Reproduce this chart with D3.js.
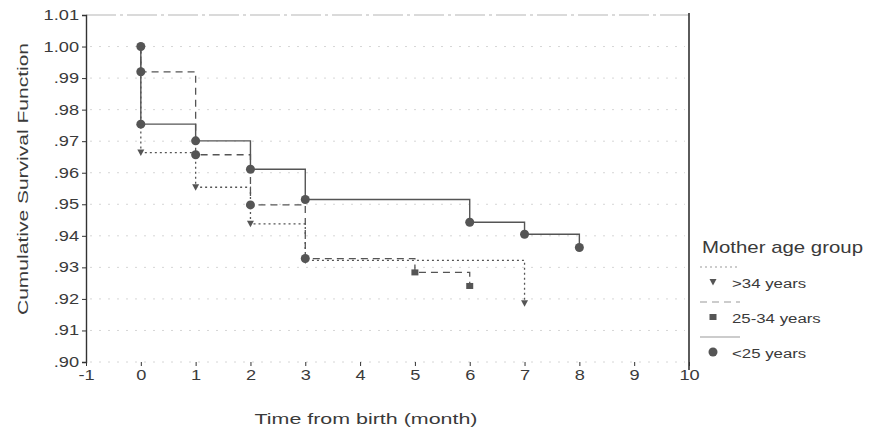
<!DOCTYPE html>
<html>
<head>
<meta charset="utf-8">
<script src="https://cdn.jsdelivr.net/npm/d3@7"></script>
<style>
    body { margin: 0; background: #fff; }
    text { font-family: "Liberation Sans", Arial, sans-serif; fill: #3a3a3a; }
</style>
</head>
<body>
<div id="km_chart"></div>
<script>
    // event times (month) and survival after each event, per age group
    var under25Months = [0, 1, 2, 3, 6, 7, 8];
    var under25Surv = [0.9754, 0.9701, 0.9611, 0.9515, 0.9443, 0.9405, 0.9363];
    var mid2534Months = [0, 1, 2, 3, 5, 6];
    var mid2534Surv = [0.9920, 0.9657, 0.9498, 0.9328, 0.9284, 0.9241];
    var over34Months = [0, 1, 2, 3, 7];
    var over34Surv = [0.9664, 0.9554, 0.9438, 0.9322, 0.9186];
    var groupLabels = [">34 years", "25-34 years", "<25 years"];

    var xTicks = [-1, 0, 1, 2, 3, 4, 5, 6, 7, 8, 9, 10];
    var yTicks = [1.01, 1.00, 0.99, 0.98, 0.97, 0.96, 0.95, 0.94, 0.93, 0.92, 0.91, 0.90];

    var width = 871, height = 435;
    var plotLeft = 86, plotRight = 689, plotTop = 15, plotBottom = 362;
    var ink = "#555";

    var svg = d3.select("#km_chart").append("svg")
        .attr("width", width)
        .attr("height", height);

    var x = d3.scaleLinear().domain([-1, 10]).range([plotLeft, plotRight]);
    var y = d3.scaleLinear().domain([0.90, 1.01]).range([plotBottom, plotTop]);

    // scanned text is wider than the font, so stretch it
    function stretch(sel, k) {
        sel.each(function () {
            var w = this.getComputedTextLength();
            d3.select(this).attr("textLength", w * k).attr("lengthAdjust", "spacingAndGlyphs");
        });
    }

    function fmt(v) {
        var s = v.toFixed(2);
        return s.charAt(0) === "0" ? s.slice(1) : s;
    }

    // faint dotted grid
    svg.append("g").selectAll("line")
        .data(yTicks.slice(1))
        .enter().append("line")
        .attr("x1", plotLeft + 4).attr("x2", plotRight - 4)
        .attr("y1", function (d) { return y(d); })
        .attr("y2", function (d) { return y(d); })
        .attr("stroke", "#d6d6d6")
        .attr("stroke-width", 1)
        .attr("stroke-dasharray", "2,7");

    // top frame, light and broken
    svg.append("line")
        .attr("x1", plotLeft).attr("x2", plotRight)
        .attr("y1", plotTop).attr("y2", plotTop)
        .attr("stroke", "#b5b5b5")
        .attr("stroke-dasharray", "30,4,3,4");

    // right frame
    svg.append("line")
        .attr("x1", plotRight).attr("x2", plotRight)
        .attr("y1", plotTop - 2).attr("y2", plotBottom + 8)
        .attr("stroke", "#333")
        .attr("stroke-width", 1.6);

    var yAxis = svg.append("g")
        .attr("transform", "translate(" + plotLeft + ",0)")
        .call(d3.axisLeft(y).tickValues(yTicks).tickSize(4).tickPadding(3).tickFormat(fmt));
    yAxis.select(".domain").attr("stroke", "#333").attr("stroke-width", 1.4);
    yAxis.selectAll(".tick line").attr("stroke", "#333");
    yAxis.selectAll("text").attr("font-size", "14px").attr("font-family", null).attr("fill", "#3a3a3a");
    stretch(yAxis.selectAll("text"), 1.3);

    var xAxis = svg.append("g")
        .attr("transform", "translate(0," + plotBottom + ")")
        .call(d3.axisBottom(x).tickValues(xTicks).tickSize(4).tickPadding(4)
            .tickFormat(function (d) { return String(d); }));
    xAxis.select(".domain").remove();
    xAxis.selectAll(".tick line").attr("stroke", "#333");
    xAxis.selectAll("text").attr("font-size", "14px").attr("font-family", null).attr("fill", "#3a3a3a");
    stretch(xAxis.selectAll("text"), 1.3);

    // axis titles
    var yTitle = svg.append("text")
        .attr("transform", "translate(28,179) rotate(-90)")
        .attr("text-anchor", "middle")
        .attr("font-size", "15px")
        .text("Cumulative Survival Function");
    yTitle.attr("textLength", 272).attr("lengthAdjust", "spacingAndGlyphs");

    var xTitle = svg.append("text")
        .attr("x", 366).attr("y", 424)
        .attr("text-anchor", "middle")
        .attr("font-size", "15px")
        .text("Time from birth (month)");
    xTitle.attr("textLength", 223).attr("lengthAdjust", "spacingAndGlyphs");

    var groups = [
        { months: over34Months, surv: over34Surv, dash: "2,3", width: 1.3, mark: "tri" },
        { months: mid2534Months, surv: mid2534Surv, dash: "7,5", width: 1.3, mark: "sq" },
        { months: under25Months, surv: under25Surv, dash: null, width: 1.4, mark: "dot" }
    ];

    var step = d3.line()
        .x(function (d) { return x(d[0]); })
        .y(function (d) { return y(d[1]); })
        .curve(d3.curveStepAfter);

    function drawMark(g, kind, cx, cy) {
        if (kind === "dot") {
            g.append("circle").attr("cx", cx).attr("cy", cy).attr("r", 4.5).attr("fill", ink);
        } else if (kind === "sq") {
            g.append("rect").attr("x", cx - 3.5).attr("y", cy - 3).attr("width", 7).attr("height", 6).attr("fill", ink);
        } else {
            g.append("path")
                .attr("d", "M" + (cx - 3.5) + "," + (cy - 3) + "L" + (cx + 3.5) + "," + (cy - 3) + "L" + cx + "," + (cy + 3.5) + "Z")
                .attr("fill", ink);
        }
    }

    groups.forEach(function (grp) {
        var pts = [[0, 1.0]];
        for (var i = 0; i < grp.months.length; i++) {
            pts.push([grp.months[i], grp.surv[i]]);
        }
        svg.append("path")
            .datum(pts)
            .attr("d", step)
            .attr("fill", "none")
            .attr("stroke", ink)
            .attr("stroke-width", grp.width)
            .attr("stroke-dasharray", grp.dash);

        var g = svg.append("g");
        for (var j = 0; j < grp.months.length; j++) {
            var kind = grp.mark;
            // early 25-34 marks print as round dots in the scan
            if (kind === "sq" && grp.months[j] <= 3) kind = "dot";
            drawMark(g, kind, x(grp.months[j]), y(grp.surv[j]));
        }
    });
    // starting point shared by all groups
    drawMark(svg.append("g"), "dot", x(0), y(1.0));

    // legend
    var legend = svg.append("g");
    var lt = legend.append("text")
        .attr("x", 702).attr("y", 253)
        .attr("font-size", "17px")
        .text("Mother age group");
    lt.attr("textLength", 161).attr("lengthAdjust", "spacingAndGlyphs");

    groups.forEach(function (grp, i) {
        var ly = 267 + i * 35;
        legend.append("line")
            .attr("x1", 700).attr("x2", 740)
            .attr("y1", ly).attr("y2", ly)
            .attr("stroke", "#999")
            .attr("stroke-width", 1)
            .attr("stroke-dasharray", grp.dash ? grp.dash : null);
        drawMark(legend, grp.mark, 713, ly + 15);
        var t = legend.append("text")
            .attr("x", 732).attr("y", ly + 21)
            .attr("font-size", "12px")
            .text(groupLabels[i]);
        stretch(t, 1.4);
    });
</script>
</body>
</html>
